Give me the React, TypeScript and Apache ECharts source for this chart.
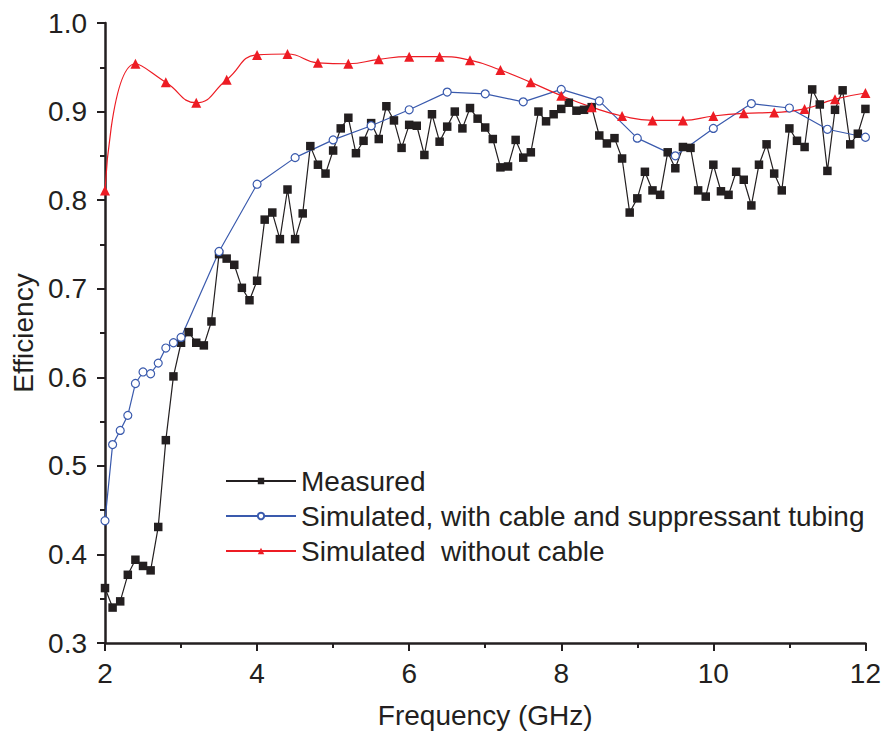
import React, { useEffect, useRef } from "react";
import * as echarts from "echarts";

const measuredFreq = [
  2.0, 2.1, 2.2, 2.3, 2.4, 2.5, 2.6, 2.7, 2.8, 2.9,
  3.0, 3.1, 3.2, 3.3, 3.4, 3.5, 3.6, 3.7, 3.8, 3.9,
  4.0, 4.1, 4.2, 4.3, 4.4, 4.5, 4.6, 4.7, 4.8, 4.9,
  5.0, 5.1, 5.2, 5.3, 5.4, 5.5, 5.6, 5.7, 5.8, 5.9,
  6.0, 6.1, 6.2, 6.3, 6.4, 6.5, 6.6, 6.7, 6.8, 6.9,
  7.0, 7.1, 7.2, 7.3, 7.4, 7.5, 7.6, 7.7, 7.8, 7.9,
  8.0, 8.1, 8.2, 8.3, 8.4, 8.5, 8.6, 8.7, 8.8, 8.9,
  9.0, 9.1, 9.2, 9.3, 9.4, 9.5, 9.6, 9.7, 9.8, 9.9,
  10.0, 10.1, 10.2, 10.3, 10.4, 10.5, 10.6, 10.7, 10.8, 10.9,
  11.0, 11.1, 11.2, 11.3, 11.4, 11.5, 11.6, 11.7, 11.8, 11.9,
  12.0,
];
const measuredEff = [
  0.362, 0.340, 0.347, 0.377, 0.394, 0.387, 0.382, 0.431, 0.529, 0.601,
  0.639, 0.651, 0.639, 0.636, 0.663, 0.739, 0.734, 0.727, 0.701, 0.687,
  0.709, 0.778, 0.786, 0.756, 0.812, 0.756, 0.785, 0.861, 0.840, 0.830,
  0.856, 0.881, 0.893, 0.853, 0.867, 0.887, 0.869, 0.906, 0.890, 0.859,
  0.885, 0.884, 0.851, 0.897, 0.866, 0.883, 0.900, 0.881, 0.904, 0.892,
  0.882, 0.869, 0.837, 0.838, 0.868, 0.848, 0.854, 0.900, 0.889, 0.897,
  0.903, 0.910, 0.901, 0.902, 0.905, 0.873, 0.864, 0.870, 0.847, 0.786,
  0.802, 0.832, 0.811, 0.806, 0.854, 0.836, 0.860, 0.859, 0.811, 0.804,
  0.840, 0.810, 0.806, 0.832, 0.823, 0.794, 0.840, 0.863, 0.830, 0.811,
  0.881, 0.867, 0.860, 0.925, 0.908, 0.833, 0.902, 0.924, 0.863, 0.875,
  0.903,
];

const cableFreq = [
  2.0, 2.1, 2.2, 2.3, 2.4, 2.5, 2.6, 2.7, 2.8, 2.9, 3.0,
  3.5, 4.0, 4.5, 5.0, 5.5, 6.0, 6.5, 7.0, 7.5, 8.0,
  8.5, 9.0, 9.5, 10.0, 10.5, 11.0, 11.5, 12.0,
];
const cableEff = [
  0.438, 0.524, 0.540, 0.557, 0.593, 0.606, 0.604, 0.616, 0.633, 0.639, 0.645,
  0.742, 0.818, 0.848, 0.868, 0.884, 0.902, 0.922, 0.920, 0.911, 0.925,
  0.912, 0.870, 0.850, 0.881, 0.909, 0.904, 0.880, 0.871,
];

const noCableFreq = [
  2.0, 2.4, 2.8, 3.2, 3.6, 4.0, 4.4, 4.8, 5.2, 5.6, 6.0, 6.4, 6.8,
  7.2, 7.6, 8.0, 8.4, 8.8, 9.2, 9.6, 10.0, 10.4, 10.8, 11.2, 11.6, 12.0,
];
const noCableEff = [
  0.811, 0.954, 0.933, 0.910, 0.936, 0.964, 0.965, 0.955, 0.954, 0.959, 0.962, 0.962, 0.958,
  0.947, 0.933, 0.918, 0.905, 0.895, 0.890, 0.890, 0.895, 0.898, 0.899, 0.903, 0.914, 0.921,
];

const seriesNames = [
  "Measured",
  "Simulated, with cable and suppressant tubing",
  "Simulated  without cable",
];

const FONT = "Liberation Sans, Arial, sans-serif";
const INK = "#231f20";
const FS = 28;

function pairs(xs: number[], ys: number[]) {
  return xs.map((x, i) => [x, ys[i]]);
}

export default function App() {
  const ref = useRef<HTMLDivElement>(null);
  useEffect(() => {
    if (!ref.current) return;
    const chart = echarts.init(ref.current, undefined, { renderer: "svg" });
    chart.setOption({
      animation: false,
      backgroundColor: "#ffffff",
      textStyle: { fontFamily: FONT },
      grid: { left: 105, right: 15, top: 23, bottom: 87, containLabel: false },
      legend: {
        orient: "vertical",
        left: 220,
        top: 462,
        itemWidth: 70,
        itemHeight: 8,
        itemGap: 7,
        data: seriesNames,
        textStyle: { fontFamily: FONT, fontSize: FS, color: INK, lineHeight: 28 },
      },
      xAxis: {
        type: "value",
        min: 2,
        max: 12,
        interval: 2,
        name: "Frequency (GHz)",
        nameLocation: "middle",
        nameGap: 58,
        nameTextStyle: { fontFamily: FONT, fontSize: FS, color: INK },
        axisLine: { show: true, onZero: false, lineStyle: { color: INK, width: 2.5 } },
        axisTick: { show: true, length: 8, lineStyle: { color: INK, width: 2 } },
        minorTick: { show: true, splitNumber: 2, length: 5, lineStyle: { color: INK, width: 2 } },
        axisLabel: { fontFamily: FONT, fontSize: FS, color: INK, margin: 16 },
        splitLine: { show: false },
        minorSplitLine: { show: false },
      },
      yAxis: {
        type: "value",
        min: 0.3,
        max: 1.0,
        interval: 0.1,
        name: "Efficiency",
        nameLocation: "middle",
        nameGap: 66,
        nameTextStyle: { fontFamily: FONT, fontSize: FS, color: INK },
        axisLine: { show: true, onZero: false, lineStyle: { color: INK, width: 2.5 } },
        axisTick: { show: true, length: 8, lineStyle: { color: INK, width: 2 } },
        minorTick: { show: true, splitNumber: 2, length: 5, lineStyle: { color: INK, width: 2 } },
        axisLabel: {
          fontFamily: FONT,
          fontSize: FS,
          color: INK,
          margin: 18,
          formatter: (v: number) => v.toFixed(1),
        },
        splitLine: { show: false },
        minorSplitLine: { show: false },
      },
      series: [
        {
          name: seriesNames[0],
          type: "line",
          data: pairs(measuredFreq, measuredEff),
          symbol: "rect",
          symbolSize: 8.5,
          showAllSymbol: true,
          lineStyle: { color: INK, width: 1.2 },
          itemStyle: { color: INK, borderWidth: 0 },
        },
        {
          name: seriesNames[1],
          type: "line",
          data: pairs(cableFreq, cableEff),
          symbol: "circle",
          symbolSize: 8,
          showAllSymbol: true,
          lineStyle: { color: "#3a5aad", width: 1.2 },
          itemStyle: { color: "#ffffff", borderColor: "#3a5aad", borderWidth: 1.2 },
        },
        {
          name: seriesNames[2],
          type: "line",
          data: pairs(noCableFreq, noCableEff),
          smooth: 0.5,
          symbol: "triangle",
          symbolSize: 10,
          showAllSymbol: true,
          lineStyle: { color: "#ed1c24", width: 1.2 },
          itemStyle: { color: "#ed1c24", borderWidth: 0 },
        },
      ],
    });
    return () => chart.dispose();
  }, []);
  return <div ref={ref} style={{ width: 884, height: 734, position: "absolute", left: 0, top: 0 }} />;
}
